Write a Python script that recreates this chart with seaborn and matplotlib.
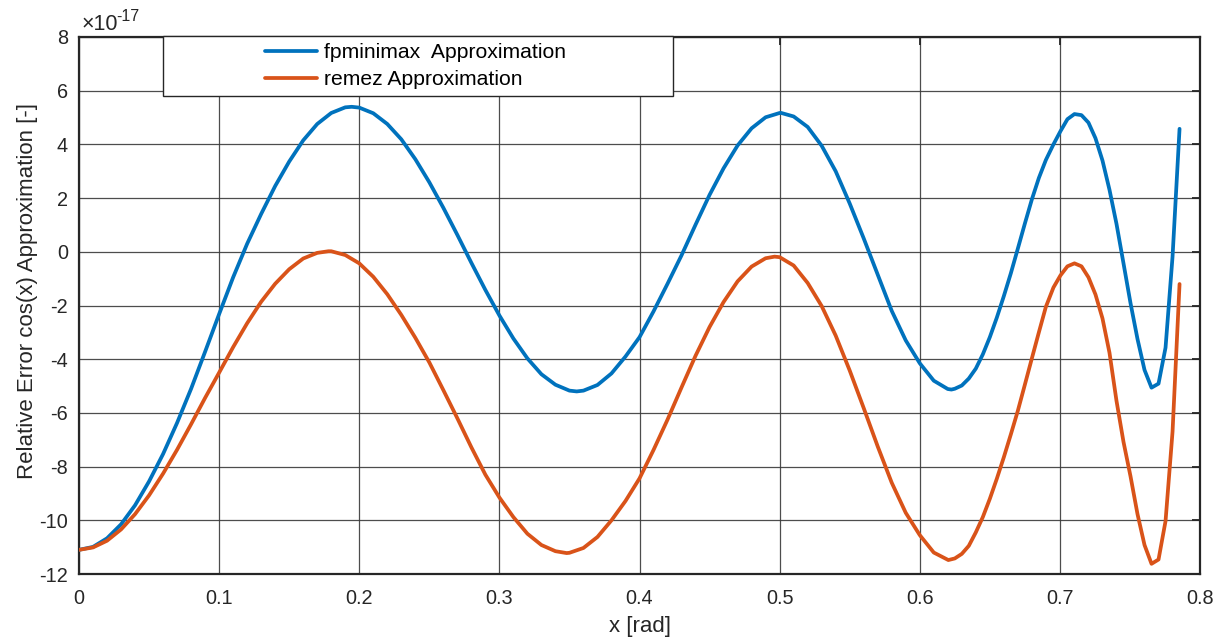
import matplotlib
matplotlib.use("Agg")
import matplotlib.pyplot as plt
from matplotlib.patches import Rectangle
import seaborn as sns
import pandas as pd

# ---- data (values in units of 1e-17) ----
x_fp = [0.00, 0.01, 0.02, 0.03, 0.04, 0.05, 0.06, 0.07, 0.08, 0.09,
        0.10, 0.11, 0.12, 0.13, 0.14, 0.15, 0.16, 0.17, 0.18, 0.19,
        0.1946, 0.20, 0.21, 0.22, 0.23, 0.24, 0.25, 0.26, 0.27, 0.28,
        0.29, 0.30, 0.31, 0.32, 0.33, 0.34, 0.35, 0.3552, 0.36, 0.37,
        0.38, 0.39, 0.40, 0.41, 0.42, 0.43, 0.44, 0.45, 0.46, 0.47,
        0.48, 0.49, 0.50, 0.5012, 0.51, 0.52, 0.53, 0.54, 0.55, 0.56,
        0.57, 0.58, 0.59, 0.60, 0.61, 0.62, 0.6226, 0.625, 0.63, 0.635,
        0.64, 0.645, 0.65, 0.655, 0.66, 0.665, 0.67, 0.675, 0.68, 0.685,
        0.69, 0.6954, 0.7004, 0.7054, 0.7104, 0.7154, 0.7204, 0.7254, 0.7304, 0.7354,
        0.7404, 0.7454, 0.7504, 0.7554, 0.7604, 0.7654, 0.7704, 0.7754, 0.7804, 0.7854]
y_fp = [-11.10, -10.99, -10.67, -10.15, -9.44, -8.55, -7.53, -6.37, -5.10, -3.72,
        -2.32, -0.95, 0.30, 1.41, 2.45, 3.36, 4.15, 4.76, 5.17, 5.38,
        5.40, 5.37, 5.16, 4.76, 4.19, 3.45, 2.59, 1.64, 0.63, -0.41,
        -1.42, -2.37, -3.23, -3.97, -4.56, -4.95, -5.17, -5.20, -5.17, -4.96,
        -4.53, -3.90, -3.18, -2.22, -1.19, -0.13, 1.01, 2.12, 3.11, 3.96,
        4.60, 5.01, 5.17, 5.17, 5.04, 4.65, 3.95, 3.00, 1.80, 0.50,
        -0.85, -2.20, -3.30, -4.15, -4.80, -5.11, -5.13, -5.10, -4.98, -4.72,
        -4.35, -3.82, -3.18, -2.45, -1.65, -0.80, 0.12, 1.05, 1.95, 2.75,
        3.42, 4.00, 4.49, 4.94, 5.13, 5.09, 4.81, 4.23, 3.40, 2.31,
        1.04, -0.43, -1.91, -3.25, -4.40, -5.06, -4.91, -3.57, -0.18, 4.58]

x_rz = [0.00, 0.01, 0.02, 0.03, 0.04, 0.05, 0.06, 0.07, 0.08, 0.09,
        0.10, 0.11, 0.12, 0.13, 0.14, 0.15, 0.16, 0.17, 0.178, 0.18,
        0.19, 0.20, 0.21, 0.22, 0.23, 0.24, 0.25, 0.26, 0.27, 0.28,
        0.29, 0.30, 0.31, 0.32, 0.33, 0.34, 0.348, 0.35, 0.36, 0.37,
        0.38, 0.39, 0.40, 0.41, 0.42, 0.43, 0.44, 0.45, 0.46, 0.47,
        0.48, 0.49, 0.4964, 0.50, 0.51, 0.52, 0.53, 0.54, 0.55, 0.56,
        0.57, 0.58, 0.59, 0.60, 0.61, 0.6204, 0.625, 0.63, 0.635, 0.64,
        0.645, 0.65, 0.655, 0.66, 0.665, 0.67, 0.675, 0.68, 0.685, 0.69,
        0.6954, 0.7004, 0.7054, 0.7104, 0.7154, 0.7204, 0.7254, 0.7304, 0.7354, 0.7404,
        0.7454, 0.7504, 0.7554, 0.7604, 0.7654, 0.7704, 0.7754, 0.7804, 0.7854]
y_rz = [-11.10, -11.01, -10.76, -10.34, -9.77, -9.07, -8.26, -7.37, -6.42, -5.44,
        -4.50, -3.55, -2.66, -1.86, -1.19, -0.65, -0.25, -0.04, 0.02, 0.02,
        -0.12, -0.43, -0.93, -1.58, -2.35, -3.20, -4.12, -5.15, -6.20, -7.28,
        -8.30, -9.15, -9.88, -10.50, -10.92, -11.15, -11.22, -11.21, -11.03, -10.62,
        -10.00, -9.28, -8.44, -7.38, -6.25, -5.05, -3.87, -2.80, -1.87, -1.10,
        -0.55, -0.24, -0.18, -0.20, -0.51, -1.16, -2.02, -3.12, -4.42, -5.82,
        -7.25, -8.60, -9.72, -10.55, -11.20, -11.48, -11.42, -11.25, -10.95, -10.45,
        -9.88, -9.20, -8.45, -7.65, -6.80, -5.92, -4.95, -3.97, -3.00, -2.05,
        -1.33, -0.88, -0.54, -0.43, -0.54, -0.95, -1.59, -2.48, -3.76, -5.55,
        -7.08, -8.36, -9.77, -10.92, -11.62, -11.46, -10.03, -6.70, -1.20]

series_names = ["fpminimax  Approximation", "remez Approximation"]
x_ticks = [0, 0.1, 0.2, 0.3, 0.4, 0.5, 0.6, 0.7, 0.8]
x_ticklabels = ["0", "0.1", "0.2", "0.3", "0.4", "0.5", "0.6", "0.7", "0.8"]
y_ticks = [8, 6, 4, 2, 0, -2, -4, -6, -8, -10, -12]

df = pd.concat([
    pd.DataFrame({"x": x_fp, "y": y_fp, "series": series_names[0]}),
    pd.DataFrame({"x": x_rz, "y": y_rz, "series": series_names[1]}),
], ignore_index=True)

sns.set_theme(style="white")
plt.rcParams["font.family"] = ["Liberation Sans", "DejaVu Sans"]
plt.rcParams["axes.unicode_minus"] = False

fig = plt.figure(figsize=(12.23, 6.4), dpi=100)
ax = fig.add_axes([0.0646, 0.1031, 0.9166, 0.8391])

palette = {series_names[0]: "#0072BD", series_names[1]: "#D95319"}
sns.lineplot(data=df, x="x", y="y", hue="series", palette=palette,
             estimator=None, sort=False, linewidth=2.7, ax=ax, legend=True, zorder=3)

ax.set_xlim(0, 0.8)
ax.set_ylim(-12, 8)
ax.set_xticks(x_ticks)
ax.set_xticklabels(x_ticklabels)
ax.set_yticks(y_ticks)
ax.set_yticklabels([str(v) for v in y_ticks])

ax.grid(True, color="#3a3a3a", linewidth=0.9, alpha=0.9)
ax.set_axisbelow(True)
for s in ax.spines.values():
    s.set_visible(True)
    s.set_color("#262626")
    s.set_linewidth(1.6)

ax.tick_params(axis="both", direction="in", length=6, width=1.3, color="#262626",
               labelsize=14.3, labelcolor="#262626", top=True, right=True)
ax.tick_params(axis="x", pad=11)
ax.tick_params(axis="y", pad=8)

ax.set_xlabel("x [rad]", fontsize=16, color="#262626")
ax.set_ylabel("Relative Error cos(x) Approximation [-]", fontsize=16, color="#262626")
ax.xaxis.set_label_coords(0.5, -0.079)
ax.yaxis.set_label_coords(-0.037, 0.527)

# exponent label (x10^-17)
ax.text(0.002, 1.013, "\u00d710", transform=ax.transAxes, fontsize=15.5,
        color="#262626", ha="left", va="baseline")
ax.text(0.0335, 1.030, "-17", transform=ax.transAxes, fontsize=11.5,
        color="#262626", ha="left", va="baseline")

# legend box
box = Rectangle((0.0749, 0.890), 0.455, 0.112, transform=ax.transAxes,
                facecolor="white", edgecolor="#262626", linewidth=1.0,
                clip_on=False, zorder=5)
ax.add_patch(box)
handles, labels = ax.get_legend_handles_labels()
leg = ax.legend(handles, labels, loc="center left", bbox_to_anchor=(0.1659, 0.946),
                frameon=False, fontsize=15.2, handlelength=2.45, handletextpad=0.35,
                labelspacing=0.38, borderpad=0, borderaxespad=0)
leg.set_zorder(6)
for t in leg.get_texts():
    t.set_color("black")
for h in leg.get_lines():
    h.set_linewidth(2.7)

fig.savefig("out.png", dpi=100, facecolor="white")
